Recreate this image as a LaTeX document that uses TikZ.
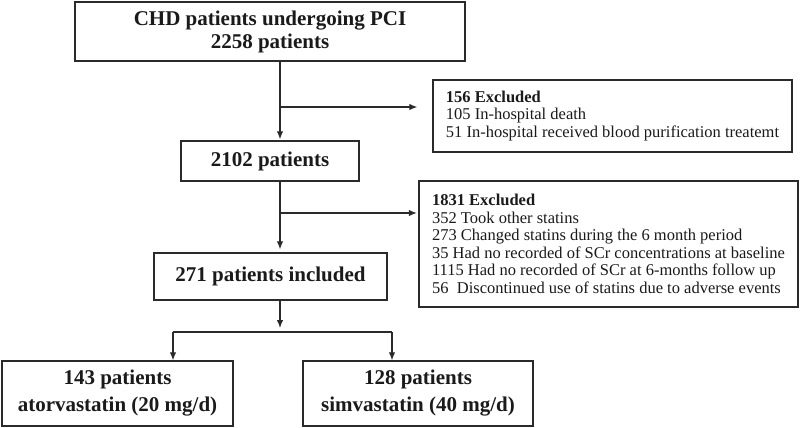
\documentclass[tikz,border=0pt]{standalone}
\usepackage{fontspec}
\setmainfont{Liberation Serif}
\usetikzlibrary{arrows.meta}
\definecolor{linec}{HTML}{2A2A2A}
\definecolor{txtc}{HTML}{1A1A1A}
\begin{document}
\begin{tikzpicture}[x=1pt,y=-1pt,
  mainbox/.style={draw=linec, line width=1.4pt, align=center, inner sep=0pt, text=txtc},
  exclbox/.style={draw=linec, line width=1.4pt, align=left, inner sep=0pt, text=txtc,
    font=\fontsize{16.5}{17.5}\selectfont},
  arr/.style={draw=linec, line width=1.2pt, -{Latex[length=8pt,width=6.5pt]}},
  ln/.style={draw=linec, line width=1.2pt}]
\useasboundingbox (0,0) rectangle (800,428);
\fill[white] (0,0) rectangle (800,428);

\node[mainbox, minimum width=390pt, minimum height=59pt, font=\fontsize{21}{23}\selectfont\bfseries] (top) at (270,31.5) {CHD patients undergoing PCI\\2258 patients};
\node[mainbox, minimum width=178pt, minimum height=40pt, font=\fontsize{21}{23}\selectfont\bfseries] (b2) at (270,161) {2102 patients};
\node[mainbox, minimum width=233pt, minimum height=47pt, font=\fontsize{21}{23}\selectfont\bfseries] (b3) at (270.5,276.5) {271 patients included};
\node[mainbox, minimum width=231pt, minimum height=65pt, font=\fontsize{21}{27}\selectfont\bfseries] (b4) at (117.5,393.5) {143 patients\\atorvastatin (20 mg/d)};
\node[mainbox, minimum width=230pt, minimum height=65pt, font=\fontsize{21}{27}\selectfont\bfseries] (b5) at (418,393.5) {128 patients\\simvastatin (40 mg/d)};

\node[exclbox, minimum width=359pt, minimum height=72pt] (ex1) at (612.5,116) {\textbf{156 Excluded}\\105 In-hospital death\\51 In-hospital received blood purification treatemt};
\node[exclbox, minimum width=379pt, minimum height=126pt] (ex2) at (608.5,244) {\textbf{1831 Excluded}\\352 Took other statins\\273 Changed statins during the 6 month period\\35 Had no recorded of SCr concentrations at baseline\\1115 Had no recorded of SCr at 6-months follow up\\56\ \ Discontinued use of statins due to adverse events};

\coordinate (sp) at (280,0);
\coordinate (j1) at (280,107);
\coordinate (j2) at (280,213);
\coordinate (j3) at (280,332);
\coordinate (jl) at (173,332);
\coordinate (jr) at (392,332);

\draw[arr, shorten >=1pt] (top.south -| sp) -- (b2.north -| sp);
\draw[arr, shorten >=15pt] (j1) -- (j1 -| ex1.west);
\draw[arr, shorten >=3pt] (b2.south -| sp) -- (b3.north -| sp);
\draw[arr, shorten >=1.5pt] (j2) -- (j2 -| ex2.west);
\draw[arr, shorten >=4pt] (b3.south -| sp) -- (j3);
\draw[ln] (jl) -- (jr);
\draw[arr] (jl) -- (jl |- b4.north);
\draw[arr] (jr) -- (jr |- b5.north);
\end{tikzpicture}
\end{document}
